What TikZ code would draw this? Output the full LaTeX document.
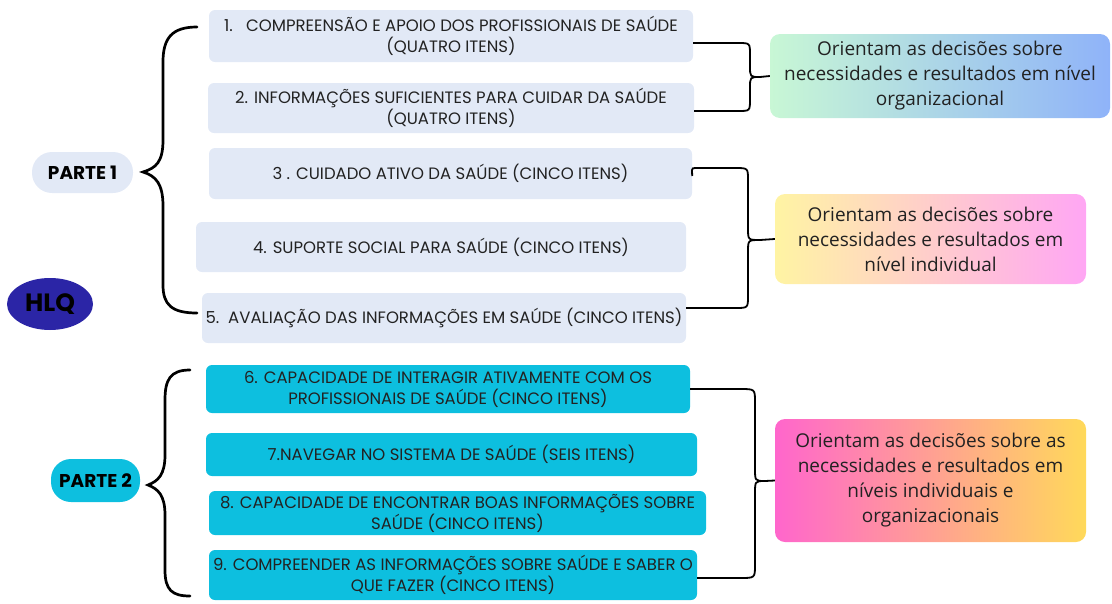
\documentclass[tikz,border=0pt]{standalone}
\usepackage{fontspec}
\setmainfont{Poppins}
\newfontfamily\opensans{Open Sans}
\usetikzlibrary{shapes.geometric}
\definecolor{lightbox}{HTML}{E2E9F6}
\definecolor{cyanbox}{HTML}{0DBFDF}
\definecolor{hlqblue}{HTML}{2B25A6}
\definecolor{txt}{HTML}{222222}
\definecolor{gAl}{HTML}{C8F7D5}
\definecolor{gAr}{HTML}{8FB3F9}
\definecolor{gBl}{HTML}{FFF4A3}
\definecolor{gBr}{HTML}{FFA6F4}
\definecolor{gCl}{HTML}{FF66CC}
\definecolor{gCr}{HTML}{FFD95A}
\tikzset{
  item/.style={rounded corners=6pt, inner sep=0pt, align=center, text=txt,
     font=\fontsize{16.5}{21}\selectfont},
  p1box/.style={item, fill=lightbox},
  p2box/.style={item, fill=cyanbox},
  part/.style={rounded corners=20pt, inner sep=0pt, font=\fontsize{18.5}{20}\selectfont\bfseries, text=black},
  outbox/.style={rounded corners=10pt, inner sep=0pt, align=center, text=txt, shading=axis,
     font=\opensans\fontsize{19}{25}\selectfont},
  brace/.style={line width=2.7pt, black, line cap=round},
  conn/.style={line width=1.8pt, black},
}
\begin{document}
\begin{tikzpicture}[x=1pt,y=-1pt]
\useasboundingbox (0,0) rectangle (1112,603);
% Part 1 items
\node[p1box, minimum width=484, minimum height=52] (b1) at (451,36) {1.\ \ \ COMPREENSÃO E APOIO DOS PROFISSIONAIS DE SAÚDE\\(QUATRO ITENS)};
\node[p1box, minimum width=486, minimum height=50] (b2) at (451,108) {2. INFORMAÇÕES SUFICIENTES PARA CUIDAR DA SAÚDE\\(QUATRO ITENS)};
\node[p1box, minimum width=483, minimum height=51] (b3) at (450.5,173.5) {3 . CUIDADO ATIVO DA SAÚDE (CINCO ITENS)};
\node[p1box, minimum width=490, minimum height=50] (b4) at (441,247) {4. SUPORTE SOCIAL PARA SAÚDE (CINCO ITENS)};
\node[p1box, minimum width=484, minimum height=50] (b5) at (444,318) {5.\ \ AVALIAÇÃO DAS INFORMAÇÕES EM SAÚDE (CINCO ITENS)};
% Part 2 items
\node[p2box, minimum width=484, minimum height=48] (c6) at (448,389) {6. CAPACIDADE DE INTERAGIR ATIVAMENTE COM OS\\PROFISSIONAIS DE SAÚDE (CINCO ITENS)};
\node[p2box, minimum width=491, minimum height=43] (c7) at (451.5,454.5) {7.NAVEGAR NO SISTEMA DE SAÚDE (SEIS ITENS)};
\node[p2box, minimum width=497, minimum height=44] (c8) at (457.5,513) {8. CAPACIDADE DE ENCONTRAR BOAS INFORMAÇÕES SOBRE\\SAÚDE (CINCO ITENS)};
\node[p2box, minimum width=488, minimum height=50] (c9) at (453,575) {9. COMPREENDER AS INFORMAÇÕES SOBRE SAÚDE E SABER O\\QUE FAZER (CINCO ITENS)};
% Part labels
\node[part, fill=lightbox, minimum width=101, minimum height=41] (p1) at (82.5,172.5) {PARTE 1};
\node[part, fill=cyanbox, minimum width=89, minimum height=43] (p2) at (95.5,480.5) {PARTE 2};
\node[ellipse, fill=hlqblue, minimum width=86, minimum height=52, inner sep=0pt,
      font=\fontsize{25}{27}\selectfont\bfseries, text=black] (hlq) at (50,304) {HLQ};
% Outcome boxes
\node[outbox, left color=gAl, right color=gAr, minimum width=340, minimum height=84] (oA) at (940,76) {Orientam as decisões sobre\\necessidades e resultados em nível\\organizacional};
\node[outbox, left color=gBl, right color=gBr, minimum width=311, minimum height=90] (oB) at (930.5,239) {Orientam as decisões sobre\\necessidades e resultados em\\nível individual};
\node[outbox, left color=gCl, right color=gCr, minimum width=311, minimum height=123] (oC) at (930.5,480.5) {Orientam as decisões sobre as\\necessidades e resultados em\\níveis individuais e\\organizacionais};
% Left braces
\coordinate (t1) at (197,27); \coordinate (e1) at (197,313);
\draw[brace] (t1) .. controls (172,27) and (163,38) .. (163,62) -- (163,140)
  .. controls (163,162) and (156,168) .. (143,172)
  .. controls (156,176) and (163,184) .. (163,206) -- (163,285)
  .. controls (163,305) and (172,313) .. (e1);
\coordinate (t2) at (190,370); \coordinate (e2) at (190,596);
\draw[brace] (t2) .. controls (170,370) and (165,380) .. (165,400) -- (165,455)
  .. controls (165,475) and (158,481) .. (148,485)
  .. controls (158,489) and (165,495) .. (165,515) -- (165,570)
  .. controls (165,590) and (172,596) .. (e2);
% Right connectors
\draw[conn] ([yshift=-7pt]b1.east) -- (738,43) .. controls (750,43) .. (750,55) -- (750,66)
  .. controls (750,77) .. (760,77) -- (oA.west);
\draw[conn] ([yshift=-3pt]b2.east) -- (738,111) .. controls (750,111) .. (750,99) -- (750,88)
  .. controls (750,77) .. (760,77);
\draw[conn] ([yshift=-2.5pt]b3.east) -- (692,170) .. controls (692,168) .. (700,168) -- (735,168)
  .. controls (748,168) .. (748,180) -- (748,228) .. controls (748,240) .. (760,240) -- (oB.west);
\draw[conn] ([yshift=10pt]b5.east) -- (735,308) .. controls (748,308) .. (748,296) -- (748,252)
  .. controls (748,240) .. (760,240);
\draw[conn] (c6.east) -- (740,389) .. controls (755,389) .. (755,402) -- (755,468)
  .. controls (755,481) .. (765,481) -- (oC.west);
\draw[conn] ([yshift=-3pt]c9.east) -- (740,578) .. controls (755,578) .. (755,565) -- (755,494)
  .. controls (755,481) .. (765,481);
\end{tikzpicture}
\end{document}
